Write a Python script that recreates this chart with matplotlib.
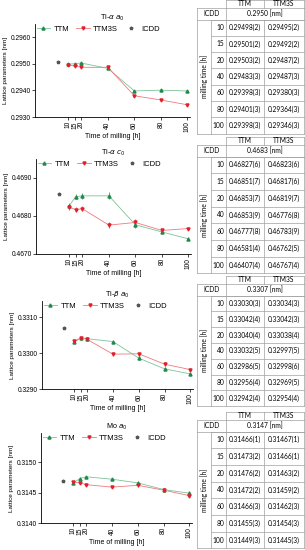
import numpy as np
import matplotlib
matplotlib.use('Agg')
import matplotlib.pyplot as plt

plt.rcParams['font.family'] = ['Liberation Sans', 'DejaVu Sans']

hours = [10, 15, 20, 40, 60, 80, 100]

# Ti-alpha a0
ta_a_ttm = [0.29498, 0.29501, 0.29503, 0.29483, 0.29398, 0.29401, 0.29398]
ta_a_ttm3s = [0.29495, 0.29492, 0.29487, 0.29487, 0.29380, 0.29364, 0.29346]
ta_a_err_ttm = [2, 2, 2, 3, 3, 3, 3]
ta_a_err_ttm3s = [2, 2, 2, 3, 3, 3, 3]
ta_a_icdd = 0.29508

# Ti-alpha c0 (plotted values)
ta_c_ttm = [0.46827, 0.46851, 0.46853, 0.46853, 0.46777, 0.46758, 0.46740]
ta_c_ttm3s = [0.46823, 0.46817, 0.46819, 0.46776, 0.46783, 0.46762, 0.46767]
ta_c_err_ttm = [6, 7, 7, 9, 8, 4, 4]
ta_c_err_ttm3s = [6, 6, 7, 8, 9, 5, 4]
ta_c_icdd = 0.46858

# Ti-beta a0
tb_a_ttm = [0.33030, 0.33042, 0.33040, 0.33032, 0.32986, 0.32956, 0.32942]
tb_a_ttm3s = [0.33034, 0.33042, 0.33038, 0.32997, 0.32998, 0.32969, 0.32954]
tb_a_err_ttm = [3, 4, 4, 5, 5, 4, 4]
tb_a_err_ttm3s = [3, 3, 4, 5, 6, 5, 4]
tb_a_icdd = 0.33069

# Mo a0
mo_a_ttm = [0.31466, 0.31473, 0.31476, 0.31472, 0.31466, 0.31455, 0.31449]
mo_a_ttm3s = [0.31467, 0.31466, 0.31463, 0.31459, 0.31462, 0.31454, 0.31445]
mo_a_err_ttm = [1, 2, 2, 2, 3, 3, 3]
mo_a_err_ttm3s = [1, 1, 2, 2, 3, 3, 3]
mo_a_icdd = 0.31469

# table texts
tab1_icdd = '0.2950 [nm]'
tab1_ttm = ['0.29498(2)', '0.29501(2)', '0.29503(2)', '0.29483(3)', '0.29398(3)', '0.29401(3)', '0.29398(3)']
tab1_ttm3s = ['0.29495(2)', '0.29492(2)', '0.29487(2)', '0.29487(3)', '0.29380(3)', '0.29364(3)', '0.29346(3)']
tab2_icdd = '0.4683 [nm]'
tab2_ttm = ['0.46827(6)', '0.46851(7)', '0.46853(7)', '0.46853(9)', '0.46777(8)', '0.46581(4)', '0.46407(4)']
tab2_ttm3s = ['0.46823(6)', '0.46817(6)', '0.46819(7)', '0.46776(8)', '0.46783(9)', '0.46762(5)', '0.46767(4)']
tab3_icdd = '0.3307 [nm]'
tab3_ttm = ['0.33030(3)', '0.33042(4)', '0.33040(4)', '0.33032(5)', '0.32986(5)', '0.32956(4)', '0.32942(4)']
tab3_ttm3s = ['0.33034(3)', '0.33042(3)', '0.33038(4)', '0.32997(5)', '0.32998(6)', '0.32969(5)', '0.32954(4)']
tab4_icdd = '0.3147 [nm]'
tab4_ttm = ['0.31466(1)', '0.31473(2)', '0.31476(2)', '0.31472(2)', '0.31466(3)', '0.31455(3)', '0.31449(3)']
tab4_ttm3s = ['0.31467(1)', '0.31466(1)', '0.31463(2)', '0.31459(2)', '0.31462(3)', '0.31454(3)', '0.31445(3)']

W, H = 305, 550
fig = plt.figure(figsize=(W / 100, H / 100), dpi=100)

panels = [
    (r'Ti-$\alpha$ $a_0$', ta_a_ttm, ta_a_ttm3s, ta_a_err_ttm, ta_a_err_ttm3s, ta_a_icdd,
     (0.2930, 0.2965), [0.2930, 0.2940, 0.2950, 0.2960], (35, 24, 190, 117)),
    (r'Ti-$\alpha$ $c_0$', ta_c_ttm, ta_c_ttm3s, ta_c_err_ttm, ta_c_err_ttm3s, ta_c_icdd,
     (0.4670, 0.4695), [0.4670, 0.4680, 0.4690], (36, 159, 191, 254)),
    (r'Ti-$\beta$ $a_0$', tb_a_ttm, tb_a_ttm3s, tb_a_err_ttm, tb_a_err_ttm3s, tb_a_icdd,
     (0.3290, 0.33145), [0.3290, 0.3300, 0.3310], (42, 301, 193, 389)),
    (r'Mo $a_0$', mo_a_ttm, mo_a_ttm3s, mo_a_err_ttm, mo_a_err_ttm3s, mo_a_icdd,
     (0.3140, 0.31548), [0.3140, 0.3145, 0.3150], (41, 433, 192, 523)),
]

green = '#1f8a4c'
green_l = '#7cc49a'
red = '#e0202a'
red_l = '#ee7a7e'
fs = 4.8

for title, ttm, ttm3s, e1, e2, icdd, ylim, yt, (x0, y0, x1, y1) in panels:
    ax = fig.add_axes([x0 / W, 1 - y1 / H, (x1 - x0) / W, (y1 - y0) / H])
    ax.plot(hours, ttm, color=green_l, lw=0.6)
    ax.plot(hours, ttm3s, color=red_l, lw=0.6)
    ax.errorbar(hours, ttm, yerr=np.array(e1) * 1e-5, color=green, ls='none', marker='^',
                ms=2.2, elinewidth=0.5, capsize=0)
    ax.errorbar(hours, ttm3s, yerr=np.array(e2) * 1e-5, color=red, ls='none', marker='v',
                ms=2.2, elinewidth=0.5, capsize=0)
    ax.plot([2], [icdd], ls='none', marker='*', ms=2.5, color='#555555')
    h1, = ax.plot([], [], color=green_l, lw=0.6, marker='^', ms=2.2, mfc=green, mec=green)
    h2, = ax.plot([], [], color=red_l, lw=0.6, marker='v', ms=2.2, mfc=red, mec=red)
    h3, = ax.plot([], [], ls='none', marker='*', ms=2.5, color='#555555')
    ax.set_xlim(-15, 102)
    ax.set_ylim(*ylim)
    ax.set_yticks(yt)
    ax.set_yticklabels(['%.4f' % v for v in yt])
    ax.set_xticks(hours)
    ax.set_xticklabels([str(h) for h in hours], rotation=90)
    ax.tick_params(labelsize=fs, length=2, width=0.5, pad=1)
    for s in ['top', 'right']:
        ax.spines[s].set_visible(False)
    for s in ['left', 'bottom']:
        ax.spines[s].set_linewidth(0.6)
    ax.set_xlabel('Time of milling [h]', fontsize=fs + 0.2, labelpad=1)
    ax.set_ylabel('Lattice parameters [nm]', fontsize=fs - 0.2, labelpad=2)
    ax.set_title(title, fontsize=fs + 0.4, pad=3)
    ax.legend([h1, h2, h3], ['TTM', 'TTM3S', 'ICDD'], loc='upper left', ncol=3, fontsize=fs + 0.7,
              frameon=False, handlelength=1.8, handletextpad=0.4, columnspacing=0.9,
              borderaxespad=0.1, borderpad=0.1)

# tables drawn on a pixel-coordinate overlay
tx = fig.add_axes([0, 0, 1, 1])
tx.set_xlim(0, W)
tx.set_ylim(H, 0)
tx.axis('off')

tables = [
    (tab1_icdd, tab1_ttm, tab1_ttm3s, 0, 16.3),
    (tab2_icdd, tab2_ttm, tab2_ttm3s, 137, 16.7),
    (tab3_icdd, tab3_ttm, tab3_ttm3s, 276, 15.8),
    (tab4_icdd, tab4_ttm, tab4_ttm3s, 412, 16.7),
]

cx = [197, 211, 226, 264, 304]
lc = '#a0a0a0'
lw = 0.5
tfs = 4.8
tfont = ['Lato', 'DejaVu Sans']

for icdd_txt, col_ttm, col_ttm3s, top, pitch in tables:
    hb = top + 7.5
    ib = hb + 12
    bot = ib + 7 * pitch
    kw = dict(color=lc, lw=lw)
    # header
    tx.plot([cx[2], cx[4]], [top, top], **kw)
    for x in cx[2:]:
        tx.plot([x, x], [top, hb], **kw)
    tx.text((cx[2] + cx[3]) / 2, (top + hb) / 2, 'TTM', ha='center', va='center', fontsize=tfs, family=tfont)
    tx.text((cx[3] + cx[4]) / 2, (top + hb) / 2, 'TTM3S', ha='center', va='center', fontsize=tfs, family=tfont)
    # ICDD row
    tx.plot([cx[0], cx[4]], [hb, hb], **kw)
    tx.plot([cx[0], cx[4]], [ib, ib], **kw)
    for x in [cx[0], cx[2], cx[4]]:
        tx.plot([x, x], [hb, ib], **kw)
    tx.text((cx[0] + cx[2]) / 2, (hb + ib) / 2, 'ICDD', ha='center', va='center', fontsize=tfs, family=tfont)
    tx.text((cx[2] + cx[4]) / 2, (hb + ib) / 2, icdd_txt, ha='center', va='center', fontsize=tfs, family=tfont)
    # data area
    for x in cx:
        tx.plot([x, x], [ib, bot], **kw)
    for i in range(8):
        y = ib + i * pitch
        tx.plot([cx[1], cx[4]], [y, y], **kw)
    tx.plot([cx[0], cx[1]], [bot, bot], **kw)
    tx.text((cx[0] + cx[1]) / 2, (ib + bot) / 2, 'milling time [h]', ha='center', va='center',
            rotation=90, fontsize=tfs, family=tfont)
    for i, h in enumerate(hours):
        yc = ib + (i + 0.5) * pitch
        tx.text(cx[2] - 1.5, yc, str(h), ha='right', va='center', fontsize=tfs, family=tfont)
        tx.text((cx[2] + cx[3]) / 2, yc, col_ttm[i], ha='center', va='center', fontsize=tfs, family=tfont)
        tx.text((cx[3] + cx[4]) / 2, yc, col_ttm3s[i], ha='center', va='center', fontsize=tfs, family=tfont)

fig.savefig('out.png', dpi=100)
